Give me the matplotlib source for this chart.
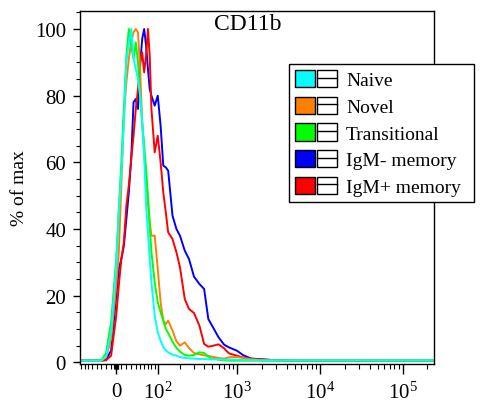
import numpy as np
import matplotlib
matplotlib.use('Agg')
import matplotlib.pyplot as plt
import matplotlib.ticker as mticker
from matplotlib.patches import Patch
from matplotlib.lines import Line2D
from matplotlib.legend_handler import HandlerTuple

plt.rcParams['font.family'] = ['Liberation Serif', 'DejaVu Serif']
plt.rcParams['mathtext.fontset'] = 'custom'
plt.rcParams['mathtext.rm'] = 'Liberation Serif'
plt.rcParams['mathtext.it'] = 'Liberation Serif:italic'

# fluorescence channel (CD11b) and histogram height, % of max
channel = [-80, -60, -40, -30, -20, -10, 0, 5, 10, 15, 20, 25, 30, 35, 40, 45,
           50, 55, 60, 65, 70, 75, 80, 90, 100, 110, 120, 130, 140, 160, 180,
           200, 230, 260, 300, 350, 400, 450, 500, 600, 700, 800, 1000, 1200,
           1500, 2000, 3000, 5000, 10000, 100000, 240000]

naive = [0.5, 0.5, 0.5, 0.5, 1.8, 9, 29, 45, 57, 72, 90, 96, 100, 91, 88, 85,
         80, 72, 62, 47, 39, 31, 24, 14, 9, 6.5, 4.6, 3.6, 3.0, 2.3, 2.0,
         1.6, 1.3, 1.2, 1.1, 1.0, 1.0, 0.9, 0.9, 0.9, 0.8, 0.8, 0.8, 0.7,
         0.7, 0.6, 0.6, 0.6, 0.6, 0.6, 0.6]
novel = [0.5, 0.5, 0.5, 0.5, 1.5, 7, 23, 33, 53, 74, 84, 91, 96, 99, 100, 99,
         88, 72, 63, 55, 48, 42, 38, 38, 28, 18, 12.5, 11.5, 12.5, 9.5, 6.3,
         5.0, 6.0, 4.3, 2.8, 2.4, 2.1, 1.9, 1.7, 1.3, 1.1, 1.5, 1.6, 1.3,
         0.9, 0.6, 0.5, 0.5, 0.5, 0.5, 0.5]
transitional = [0.5, 0.5, 0.5, 0.6, 2.8, 12, 31, 46, 60, 76, 92, 100, 95, 91, 96, 90,
                80, 72, 65, 58, 50, 41, 33, 24, 18, 15, 12.5, 10, 8.8, 6.2, 4.3,
                3.2, 2.2, 2.0, 2.2, 3.0, 2.8, 1.7, 1.1, 0.8, 0.6, 0.5, 0.5, 0.5,
                0.5, 0.5, 0.5, 0.5, 0.5, 0.5, 0.5]
igm_neg = [0.5, 0.5, 0.5, 0.5, 0.8, 3.5, 20, 28, 31, 35, 43, 51, 61, 78, 79, 76,
           89, 97, 100, 95, 88, 82, 80, 77, 80, 71, 59, 58.5, 57.5, 44, 40,
           38, 33.5, 31, 25.7, 23.5, 22, 13, 11, 7.5, 5.3, 4.5, 3.5, 2.1,
           1.1, 0.9, 0.6, 0.5, 0.5, 0.5, 0.5]
igm_pos = [0.5, 0.5, 0.5, 0.5, 0.6, 2, 14, 23, 31, 36, 47, 53, 61, 68, 76, 82,
           90, 93, 87, 92, 100, 92, 76, 63, 68, 60, 51, 45, 39, 37, 33,
           28.5, 19, 16, 14.8, 11, 5.5, 4.7, 4.9, 5.4, 4.2, 2.7, 2.0, 1.4,
           1.1, 0.9, 0.6, 0.5, 0.5, 0.5, 0.5]

names = ['Naive', 'Novel', 'Transitional', 'IgM- memory', 'IgM+ memory']
colors = ['#00FFFF', '#FF8000', '#00FF00', '#0000FF', '#FF0000']
series = [naive, novel, transitional, igm_neg, igm_pos]

W = 70.0  # width of the linear region of the biexponential axis


def biex(x):
    return np.arcsinh(np.asarray(x, dtype=float) / W)


def biex_inv(u):
    return W * np.sinh(np.asarray(u, dtype=float))


fig = plt.figure(figsize=(4.86, 4.06), dpi=100)
ax = fig.add_axes([80 / 486, 1 - 365 / 406, 354 / 486, 353 / 406])
ax.set_xscale('function', functions=(biex, biex_inv))

# draw order: blue, red, orange, green, cyan on top
for idx in [3, 4, 1, 2, 0]:
    ax.plot(channel, series[idx], color=colors[idx], lw=1.4)

ax.set_xlim(-83, 240000)
ax.set_ylim(-0.5, 105.4)

ax.set_xticks([0, 1e2, 1e3, 1e4, 1e5])
ax.set_xticklabels(['0', r'$\mathregular{10^2}$', r'$\mathregular{10^3}$',
                    r'$\mathregular{10^4}$', r'$\mathregular{10^5}$'])
minor = [-80, -70, -60, -50, -40, -30, -20, -10, -4, -3, -2, -1, 1, 2, 3, 4]
minor += list(range(10, 100, 10))
for dec in [1e2, 1e3, 1e4, 1e5]:
    minor += [k * dec for k in range(2, 10)]
minor = [m for m in minor if m < 240000]
ax.xaxis.set_minor_locator(mticker.FixedLocator(minor))

ax.set_yticks([0, 20, 40, 60, 80, 100])
ax.yaxis.set_minor_locator(mticker.MultipleLocator(5))

ax.tick_params(axis='x', which='major', length=7, width=1, pad=6, labelsize=15)
ax.tick_params(axis='x', which='minor', length=3.5, width=0.8)
ax.tick_params(axis='y', which='major', length=5, width=1, pad=5, labelsize=15)
ax.tick_params(axis='y', which='minor', length=3, width=0.8)
for sp in ax.spines.values():
    sp.set_linewidth(1.0)

ax.set_ylabel('% of max', fontsize=14, labelpad=5)
ax.text(0.475, 0.995, 'CD11b', transform=ax.transAxes, ha='center', va='top',
        fontsize=17)

handles = []
hmap = {}
for c in colors:
    h = (Patch(facecolor=c, edgecolor='black', lw=1),
         (Patch(facecolor='white', edgecolor='black', lw=1),
          Line2D([], [], color='black', lw=1)))
    handles.append(h)
    hmap[h] = HandlerTuple(ndivide=None, pad=0.1)

leg = fig.legend(handles, names, handler_map=hmap, loc='upper left',
                 bbox_to_anchor=(289 / 486, 1 - 201 / 406, 185 / 486, 136 / 406),
                 mode='expand', borderaxespad=0, fontsize=14,
                 handlelength=2.16, handleheight=0.98, handletextpad=0.45,
                 labelspacing=0.38, borderpad=0.32, fancybox=False,
                 edgecolor='black', framealpha=1)
leg.get_frame().set_linewidth(1.0)

fig.savefig('out.png', dpi=100)
